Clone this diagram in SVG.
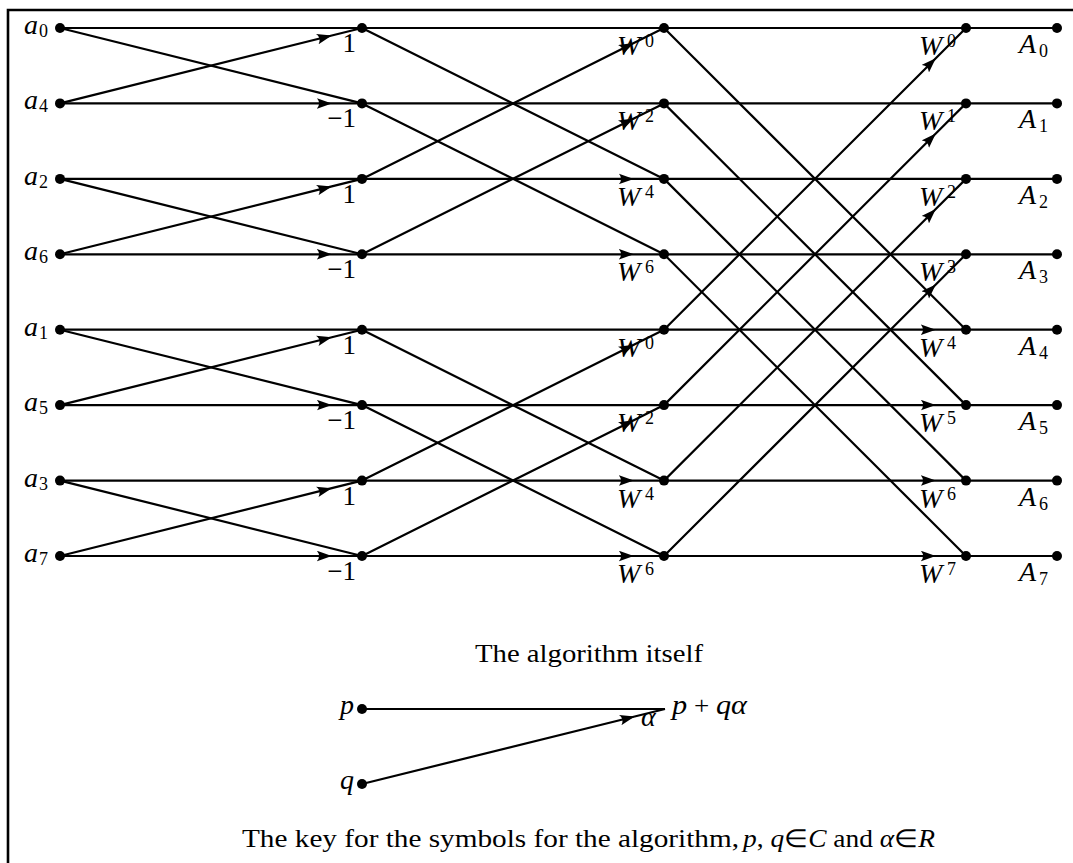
<svg xmlns="http://www.w3.org/2000/svg" width="1073" height="863" viewBox="0 0 1073 863">
<style>
.e{stroke:#000;stroke-width:2.2;fill:none}
.d{fill:#000}
text{font-family:"Liberation Serif","Times New Roman",serif;fill:#000;font-size:25px}
.i{font-style:italic;font-size:28px}
.n{font-size:27px}
.s{font-size:18px}
</style>
<defs>
<marker id="arr" markerUnits="userSpaceOnUse" markerWidth="16" markerHeight="11" refX="15" refY="5.5" orient="auto" viewBox="0 0 16 11">
<path d="M0,0.2 Q4.5,5.5 0,10.8 L15,5.5 Z" fill="#000"/>
</marker>
</defs>
<rect width="1073" height="863" fill="#fff"/>
<path d="M8,863 L8,10 L1073,10" fill="none" stroke="#000" stroke-width="2.6"/>
<g id="connectors">
<path class="e" d="M60,28 L362,28"/>
<path class="e" d="M60,28 L362,103.4"/>
<path class="e" d="M60,103.4 L331.8,35.54 L362,28" marker-mid="url(#arr)"/>
<path class="e" d="M60,103.4 L331.8,103.4 L362,103.4" marker-mid="url(#arr)"/>
<path class="e" d="M60,178.9 L362,178.9"/>
<path class="e" d="M60,178.9 L362,254.3"/>
<path class="e" d="M60,254.3 L331.8,186.44 L362,178.9" marker-mid="url(#arr)"/>
<path class="e" d="M60,254.3 L331.8,254.3 L362,254.3" marker-mid="url(#arr)"/>
<path class="e" d="M60,329.7 L362,329.7"/>
<path class="e" d="M60,329.7 L362,405.1"/>
<path class="e" d="M60,405.1 L331.8,337.24 L362,329.7" marker-mid="url(#arr)"/>
<path class="e" d="M60,405.1 L331.8,405.1 L362,405.1" marker-mid="url(#arr)"/>
<path class="e" d="M60,480.6 L362,480.6"/>
<path class="e" d="M60,480.6 L362,556"/>
<path class="e" d="M60,556 L331.8,488.14 L362,480.6" marker-mid="url(#arr)"/>
<path class="e" d="M60,556 L331.8,556 L362,556" marker-mid="url(#arr)"/>
<path class="e" d="M362,28 L664,28"/>
<path class="e" d="M362,28 L664,178.9"/>
<path class="e" d="M362,178.9 L633.8,43.09 L664,28" marker-mid="url(#arr)"/>
<path class="e" d="M362,178.9 L633.8,178.9 L664,178.9" marker-mid="url(#arr)"/>
<path class="e" d="M362,103.4 L664,103.4"/>
<path class="e" d="M362,103.4 L664,254.3"/>
<path class="e" d="M362,254.3 L633.8,118.49 L664,103.4" marker-mid="url(#arr)"/>
<path class="e" d="M362,254.3 L633.8,254.3 L664,254.3" marker-mid="url(#arr)"/>
<path class="e" d="M362,329.7 L664,329.7"/>
<path class="e" d="M362,329.7 L664,480.6"/>
<path class="e" d="M362,480.6 L633.8,344.79 L664,329.7" marker-mid="url(#arr)"/>
<path class="e" d="M362,480.6 L633.8,480.6 L664,480.6" marker-mid="url(#arr)"/>
<path class="e" d="M362,405.1 L664,405.1"/>
<path class="e" d="M362,405.1 L664,556"/>
<path class="e" d="M362,556 L633.8,420.19 L664,405.1" marker-mid="url(#arr)"/>
<path class="e" d="M362,556 L633.8,556 L664,556" marker-mid="url(#arr)"/>
<path class="e" d="M664,28 L966,28"/>
<path class="e" d="M664,28 L966,329.7"/>
<path class="e" d="M664,329.7 L935.8,58.17 L966,28" marker-mid="url(#arr)"/>
<path class="e" d="M664,329.7 L935.8,329.7 L966,329.7" marker-mid="url(#arr)"/>
<path class="e" d="M664,103.4 L966,103.4"/>
<path class="e" d="M664,103.4 L966,405.1"/>
<path class="e" d="M664,405.1 L935.8,133.57 L966,103.4" marker-mid="url(#arr)"/>
<path class="e" d="M664,405.1 L935.8,405.1 L966,405.1" marker-mid="url(#arr)"/>
<path class="e" d="M664,178.9 L966,178.9"/>
<path class="e" d="M664,178.9 L966,480.6"/>
<path class="e" d="M664,480.6 L935.8,209.07 L966,178.9" marker-mid="url(#arr)"/>
<path class="e" d="M664,480.6 L935.8,480.6 L966,480.6" marker-mid="url(#arr)"/>
<path class="e" d="M664,254.3 L966,254.3"/>
<path class="e" d="M664,254.3 L966,556"/>
<path class="e" d="M664,556 L935.8,284.47 L966,254.3" marker-mid="url(#arr)"/>
<path class="e" d="M664,556 L935.8,556 L966,556" marker-mid="url(#arr)"/>
<path class="e" d="M966,28 L1057,28"/>
<path class="e" d="M966,103.4 L1057,103.4"/>
<path class="e" d="M966,178.9 L1057,178.9"/>
<path class="e" d="M966,254.3 L1057,254.3"/>
<path class="e" d="M966,329.7 L1057,329.7"/>
<path class="e" d="M966,405.1 L1057,405.1"/>
<path class="e" d="M966,480.6 L1057,480.6"/>
<path class="e" d="M966,556 L1057,556"/>
<path class="e" d="M362,709 L665,709"/>
<path class="e" d="M362,784 L634.7,716.5 L665,709" marker-mid="url(#arr)"/>
</g>
<g id="in0"><circle class="d" cx="60" cy="28" r="5"/><text class="i" x="24" y="34">a</text><text class="s" x="39" y="37">0</text></g>
<g id="in4"><circle class="d" cx="60" cy="103.4" r="5"/><text class="i" x="24" y="109.4">a</text><text class="s" x="39" y="112.4">4</text></g>
<g id="in2"><circle class="d" cx="60" cy="178.9" r="5"/><text class="i" x="24" y="184.9">a</text><text class="s" x="39" y="187.9">2</text></g>
<g id="in6"><circle class="d" cx="60" cy="254.3" r="5"/><text class="i" x="24" y="260.3">a</text><text class="s" x="39" y="263.3">6</text></g>
<g id="in1"><circle class="d" cx="60" cy="329.7" r="5"/><text class="i" x="24" y="335.7">a</text><text class="s" x="39" y="338.7">1</text></g>
<g id="in5"><circle class="d" cx="60" cy="405.1" r="5"/><text class="i" x="24" y="411.1">a</text><text class="s" x="39" y="414.1">5</text></g>
<g id="in3"><circle class="d" cx="60" cy="480.6" r="5"/><text class="i" x="24" y="486.6">a</text><text class="s" x="39" y="489.6">3</text></g>
<g id="in7"><circle class="d" cx="60" cy="556" r="5"/><text class="i" x="24" y="562">a</text><text class="s" x="39" y="565">7</text></g>
<g id="s1r0"><circle class="d" cx="362" cy="28" r="5"/><text class="n" x="356" y="52" text-anchor="end">1</text></g>
<g id="s1r1"><circle class="d" cx="362" cy="103.4" r="5"/><text class="n" x="356" y="127.4" text-anchor="end">−1</text></g>
<g id="s1r2"><circle class="d" cx="362" cy="178.9" r="5"/><text class="n" x="356" y="202.9" text-anchor="end">1</text></g>
<g id="s1r3"><circle class="d" cx="362" cy="254.3" r="5"/><text class="n" x="356" y="278.3" text-anchor="end">−1</text></g>
<g id="s1r4"><circle class="d" cx="362" cy="329.7" r="5"/><text class="n" x="356" y="353.7" text-anchor="end">1</text></g>
<g id="s1r5"><circle class="d" cx="362" cy="405.1" r="5"/><text class="n" x="356" y="429.1" text-anchor="end">−1</text></g>
<g id="s1r6"><circle class="d" cx="362" cy="480.6" r="5"/><text class="n" x="356" y="504.6" text-anchor="end">1</text></g>
<g id="s1r7"><circle class="d" cx="362" cy="556" r="5"/><text class="n" x="356" y="580" text-anchor="end">−1</text></g>
<g id="s2r0"><circle class="d" cx="664" cy="28" r="5"/><text class="i" x="617" y="55">W</text><text class="s" x="645" y="47">0</text></g>
<g id="s2r1"><circle class="d" cx="664" cy="103.4" r="5"/><text class="i" x="617" y="130.4">W</text><text class="s" x="645" y="122.4">2</text></g>
<g id="s2r2"><circle class="d" cx="664" cy="178.9" r="5"/><text class="i" x="617" y="205.9">W</text><text class="s" x="645" y="197.9">4</text></g>
<g id="s2r3"><circle class="d" cx="664" cy="254.3" r="5"/><text class="i" x="617" y="281.3">W</text><text class="s" x="645" y="273.3">6</text></g>
<g id="s2r4"><circle class="d" cx="664" cy="329.7" r="5"/><text class="i" x="617" y="356.7">W</text><text class="s" x="645" y="348.7">0</text></g>
<g id="s2r5"><circle class="d" cx="664" cy="405.1" r="5"/><text class="i" x="617" y="432.1">W</text><text class="s" x="645" y="424.1">2</text></g>
<g id="s2r6"><circle class="d" cx="664" cy="480.6" r="5"/><text class="i" x="617" y="507.6">W</text><text class="s" x="645" y="499.6">4</text></g>
<g id="s2r7"><circle class="d" cx="664" cy="556" r="5"/><text class="i" x="617" y="583">W</text><text class="s" x="645" y="575">6</text></g>
<g id="s3r0"><circle class="d" cx="966" cy="28" r="5"/><text class="i" x="919" y="55">W</text><text class="s" x="947" y="47">0</text></g>
<g id="s3r1"><circle class="d" cx="966" cy="103.4" r="5"/><text class="i" x="919" y="130.4">W</text><text class="s" x="947" y="122.4">1</text></g>
<g id="s3r2"><circle class="d" cx="966" cy="178.9" r="5"/><text class="i" x="919" y="205.9">W</text><text class="s" x="947" y="197.9">2</text></g>
<g id="s3r3"><circle class="d" cx="966" cy="254.3" r="5"/><text class="i" x="919" y="281.3">W</text><text class="s" x="947" y="273.3">3</text></g>
<g id="s3r4"><circle class="d" cx="966" cy="329.7" r="5"/><text class="i" x="919" y="356.7">W</text><text class="s" x="947" y="348.7">4</text></g>
<g id="s3r5"><circle class="d" cx="966" cy="405.1" r="5"/><text class="i" x="919" y="432.1">W</text><text class="s" x="947" y="424.1">5</text></g>
<g id="s3r6"><circle class="d" cx="966" cy="480.6" r="5"/><text class="i" x="919" y="507.6">W</text><text class="s" x="947" y="499.6">6</text></g>
<g id="s3r7"><circle class="d" cx="966" cy="556" r="5"/><text class="i" x="919" y="583">W</text><text class="s" x="947" y="575">7</text></g>
<g id="out0"><circle class="d" cx="1057" cy="28" r="5"/><text class="i" x="1019" y="53">A</text><text class="s" x="1039" y="57">0</text></g>
<g id="out1"><circle class="d" cx="1057" cy="103.4" r="5"/><text class="i" x="1019" y="128.4">A</text><text class="s" x="1039" y="132.4">1</text></g>
<g id="out2"><circle class="d" cx="1057" cy="178.9" r="5"/><text class="i" x="1019" y="203.9">A</text><text class="s" x="1039" y="207.9">2</text></g>
<g id="out3"><circle class="d" cx="1057" cy="254.3" r="5"/><text class="i" x="1019" y="279.3">A</text><text class="s" x="1039" y="283.3">3</text></g>
<g id="out4"><circle class="d" cx="1057" cy="329.7" r="5"/><text class="i" x="1019" y="354.7">A</text><text class="s" x="1039" y="358.7">4</text></g>
<g id="out5"><circle class="d" cx="1057" cy="405.1" r="5"/><text class="i" x="1019" y="430.1">A</text><text class="s" x="1039" y="434.1">5</text></g>
<g id="out6"><circle class="d" cx="1057" cy="480.6" r="5"/><text class="i" x="1019" y="505.6">A</text><text class="s" x="1039" y="509.6">6</text></g>
<g id="out7"><circle class="d" cx="1057" cy="556" r="5"/><text class="i" x="1019" y="581">A</text><text class="s" x="1039" y="585">7</text></g>
<text x="475" y="662" textLength="228" lengthAdjust="spacingAndGlyphs">The algorithm itself</text>
<g id="key-p"><circle class="d" cx="362" cy="709" r="5"/><text class="i" x="354" y="714" text-anchor="end">p</text></g>
<g id="key-q"><circle class="d" cx="362" cy="784" r="5"/><text class="i" x="354" y="789" text-anchor="end">q</text></g>
<g id="key-out"><text x="672" y="714" textLength="75" lengthAdjust="spacingAndGlyphs"><tspan class="i">p</tspan> + <tspan class="i">qα</tspan></text><text class="i" x="641" y="726">α</text></g>
<text x="242" y="847" textLength="497" lengthAdjust="spacingAndGlyphs">The key for the symbols for the algorithm,</text>
<text x="743" y="847" textLength="192" lengthAdjust="spacingAndGlyphs"><tspan class="i" style="font-size:25px">p</tspan>, <tspan class="i" style="font-size:25px">q</tspan>∈<tspan class="i" style="font-size:25px">C</tspan> and <tspan class="i" style="font-size:25px">α</tspan>∈<tspan class="i" style="font-size:25px">R</tspan></text>
</svg>
